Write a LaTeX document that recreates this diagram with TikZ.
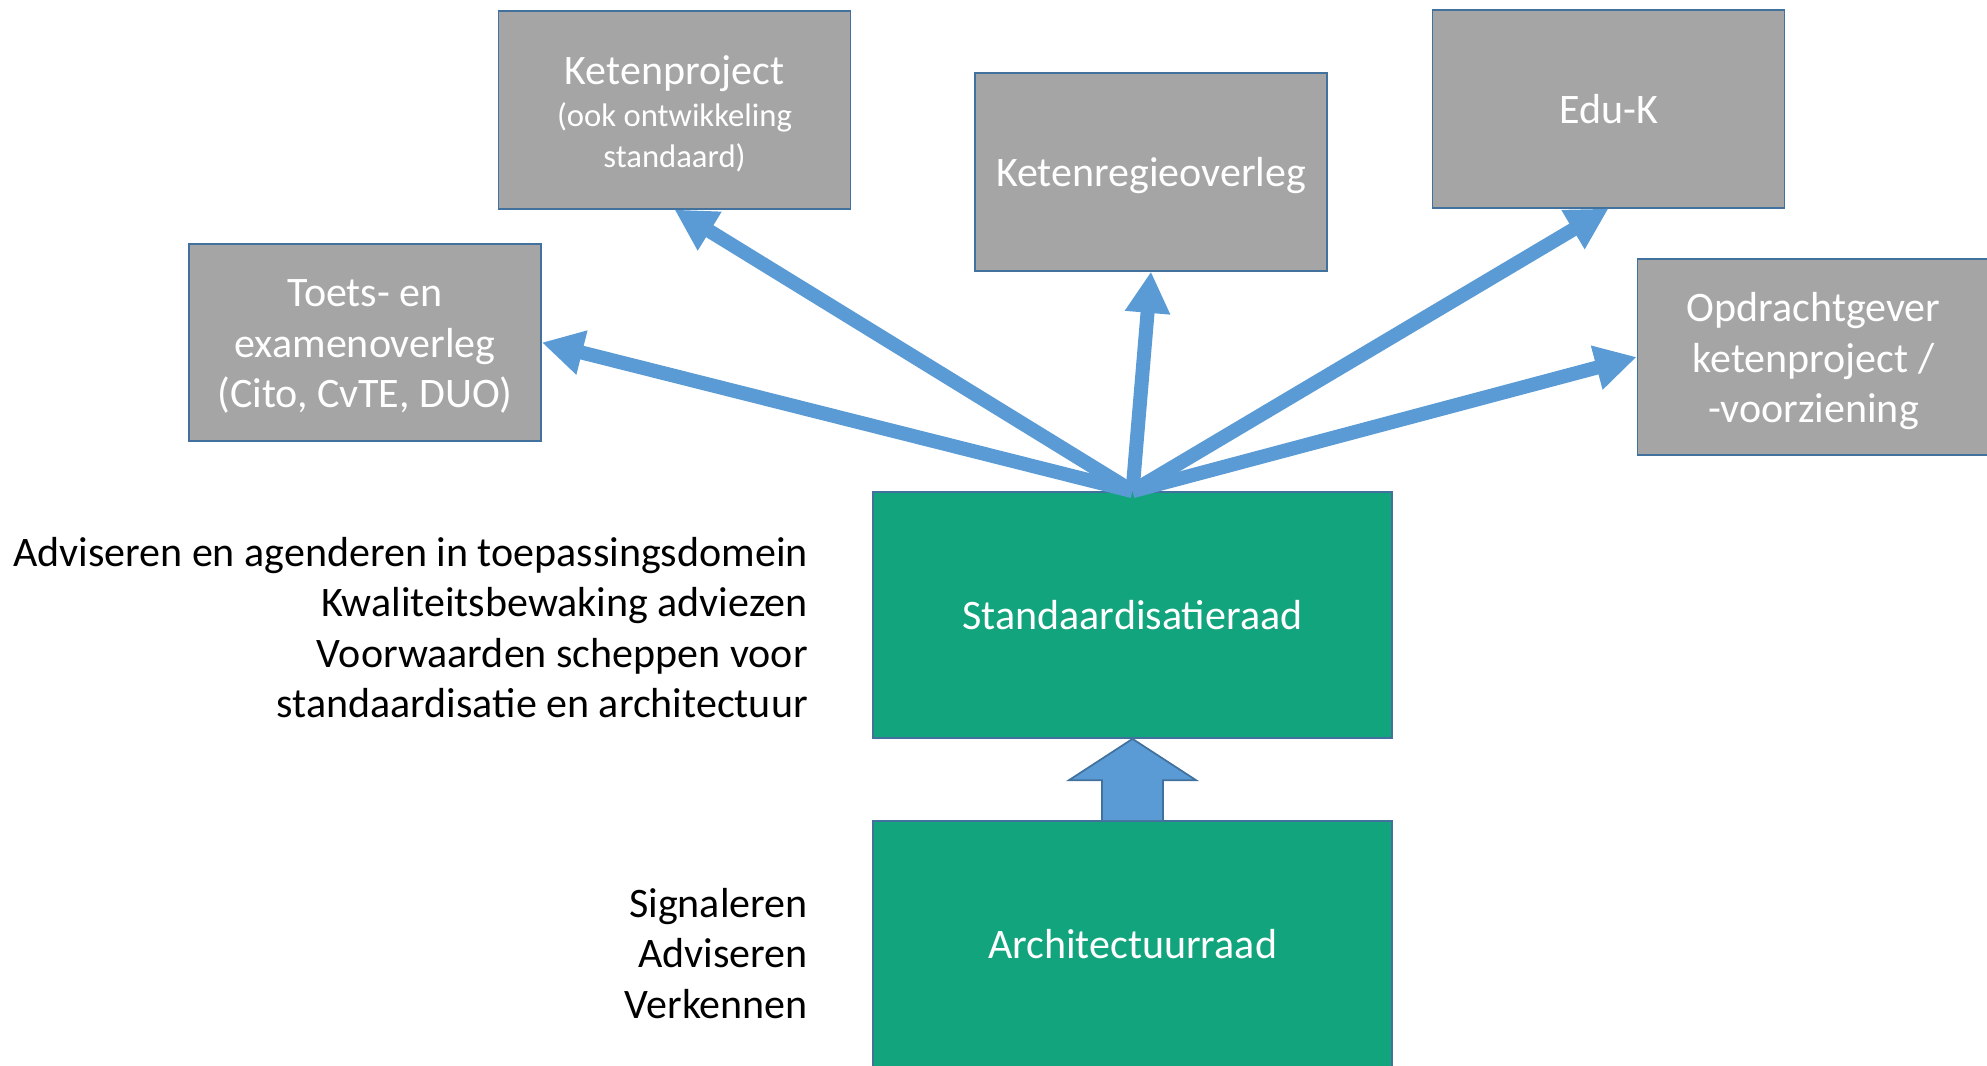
\documentclass[tikz,border=0pt]{standalone}
\usepackage{fontspec}
\setmainfont{Carlito}
\usetikzlibrary{arrows.meta,calc}
\definecolor{boxgray}{HTML}{A5A5A5}
\definecolor{boxedge}{HTML}{41719C}
\definecolor{boxgreen}{HTML}{12A57D}
\definecolor{arrblue}{HTML}{5B9BD5}
\newcommand{\subtxt}{\fontsize{24.5}{30.4}\selectfont}
\begin{document}
\begin{tikzpicture}[x=0.75pt,y=-0.75pt,
  graybox/.style={draw=boxedge,line width=1.3pt,fill=boxgray,text=white,align=center,
    minimum width=264pt,minimum height=148pt,inner sep=2pt,
    font=\fontsize{31.5}{38}\selectfont},
  greenbox/.style={draw=boxedge,line width=1.3pt,fill=boxgreen,text=white,align=center,
    minimum width=389pt,minimum height=184.5pt,font=\fontsize{31.5}{38}\selectfont},
  fan/.style={draw=arrblue,line width=10.5pt,-{Triangle[length=31pt,width=32pt]}},
  sidetext/.style={align=right,anchor=east,font=\fontsize{31.5}{37.7}\selectfont,inner sep=0pt}]
\useasboundingbox (0,0) rectangle (1987,1065);
\node[graybox] (toets) at (365,342.5) {\rule{0pt}{26.5pt}Toets- en\\examenoverleg\\(Cito, CvTE, DUO)};
\node[graybox] (kp) at (674.5,110) {\rule{0pt}{27pt}Ketenproject\\[-6pt]{\subtxt(ook ontwikkeling}\\[-7.6pt]{\subtxt standaard)}};
\node[graybox,text depth=0pt] (kr) at (1151,172) {Ketenregieoverleg};
\node[graybox] (eduk) at (1608.5,109) {Edu-K};
\node[graybox,minimum height=147pt] (opd) at (1813.5,357) {\rule{0pt}{28pt}Opdrachtgever\\ketenproject /\\-voorziening};
\node[greenbox] (std) at (1132.5,615) {Standaardisatieraad};
\node[greenbox] (arch) at (1132.5,944) {Architectuurraad};
\draw[fan] (std.north) -- (toets.east);
\draw[fan] (std.north) -- (kp.south);
\draw[fan] (std.north) -- (kr.south);
\draw[fan] (std.north) -- (eduk.south);
\draw[fan] (std.north) -- (opd.west);
\draw[draw=boxedge,line width=1.3pt,fill=arrblue,line join=miter]
  ($(arch.north)+(-30.5,0)$) -- ++(0,-40) -- ++(-33,0) -- (std.south)
  -- ($(arch.north)+(63.5,-40)$) -- ++(-33,0) -- ($(arch.north)+(30.5,0)$);
\node[sidetext] (adv) at (808,627.5) {Adviseren en agenderen in toepassingsdomein\\Kwaliteitsbewaking adviezen\\Voorwaarden scheppen voor\\standaardisatie en architectuur};
\node[sidetext] (sig) at (808,953.5) {Signaleren\\Adviseren\\Verkennen};
\end{tikzpicture}
\end{document}
